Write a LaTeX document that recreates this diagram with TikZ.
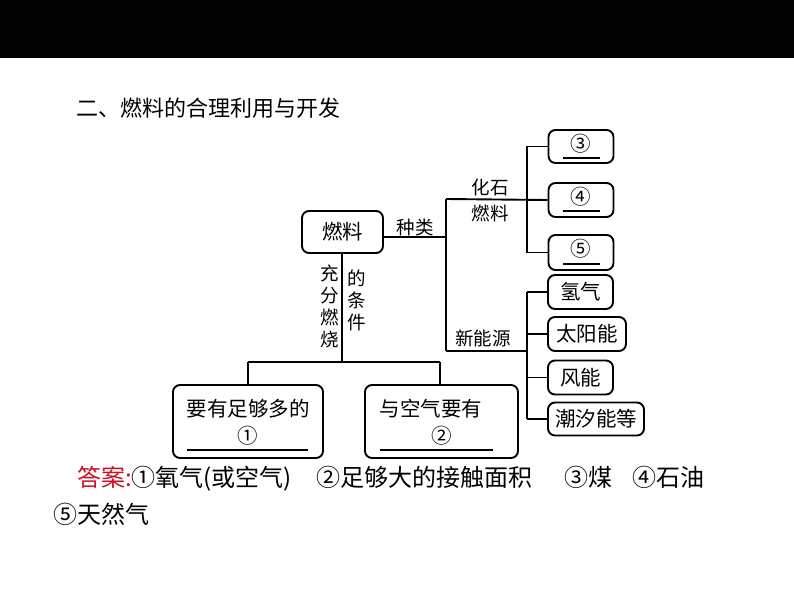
\documentclass[tikz,border=0pt]{standalone}
\usepackage{fontspec}
\setmainfont{Noto Sans CJK SC}
\definecolor{ansred}{RGB}{204,18,32}
\begin{document}
\begin{tikzpicture}[x=1bp,y=-1bp,
  box/.style={draw,line width=1.9bp,rounded corners=7bp,inner sep=0pt,align=center},
  conn/.style={line width=1.9bp},
  lbl/.style={inner sep=0pt,font=\fontsize{18.5bp}{20bp}\selectfont},
  bt/.style={font=\fontsize{20.5bp}{22bp}\selectfont},
  uline/.style={line width=1.6bp},
  anst/.style={anchor=west,inner sep=0pt,font=\fontsize{24bp}{26bp}\selectfont}]
\useasboundingbox (0,0) rectangle (794,596);
\fill[black] (0,0) rectangle (794,58);
\node[anchor=west,inner sep=0pt,font=\fontsize{22bp}{24bp}\selectfont] (title) at (76,108) {二、燃料的合理利用与开发};
% main box
\node[box,bt,minimum width=81bp,minimum height=42bp] (fuel) at (342.5,232) {燃料};
% fossil
\node[box,bt,minimum width=65bp,minimum height=33bp] (c3) at (581,146.5) {};
\node[box,bt,minimum width=65bp,minimum height=34bp] (c4) at (581,200) {};
\node[box,bt,minimum width=65bp,minimum height=35bp] (c5) at (581,252.5) {};
\node[bt,inner sep=0pt] (t3) at (581,144) {③};
\node[bt,inner sep=0pt] (t4) at (581,197) {④};
\node[bt,inner sep=0pt] (t5) at (581,249) {⑤};
\draw[uline] (563,158) -- (600,158);
\draw[uline] (563,211) -- (600,211);
\draw[uline] (563,264) -- (600,264);
% new energy
\node[box,bt,minimum width=65bp,minimum height=34bp] (h2) at (580.5,292) {氢气};
\node[box,bt,minimum width=78bp,minimum height=34bp] (solar) at (587,334) {太阳能};
\node[box,bt,minimum width=65bp,minimum height=34bp] (wind) at (580.5,377.5) {风能};
\node[box,bt,minimum width=96bp,minimum height=33bp] (tide) at (596,419) {潮汐能等};
% bottom boxes
\node[box,minimum width=150bp,minimum height=73bp] (b1) at (248,421.5) {};
\node[box,minimum width=153bp,minimum height=73bp] (b2) at (441.5,421.5) {};
\node[bt,inner sep=0pt] (b1t) at (248,409) {要有足够多的};
\node[bt,inner sep=0pt] (b1n) at (248,436) {①};
\node[bt,inner sep=0pt] (b2t) at (431,409) {与空气要有};
\node[bt,inner sep=0pt] (b2n) at (441.5,436) {②};
\draw[uline] (187,450) -- (308,450);
\draw[uline] (380,450) -- (493,450);
% junctions
\coordinate (j1) at (446,237);
\coordinate (jf) at (446,199);
\coordinate (jn) at (446,351);
\coordinate (kf) at (527,199);
\coordinate (kn) at (527,351);
\coordinate (d1) at (342,362);
\coordinate (dl) at (248,362);
\coordinate (dr) at (440,362);
% connectors
\draw[conn] (fuel.east |- j1) -- (j1);
\draw[conn] (jf) -- (jn);
\draw[conn] (jf) -- (c4.west);
\draw[conn] (kf |- c3.west) -- (kf |- c5.west);
\draw[conn] (kf |- c3.west) -- (c3.west);
\draw[conn] (kf |- c5.west) -- (c5.west);
\draw[conn] (jn) -- (kn);
\draw[conn] (kn |- h2.west) -- (kn |- tide.west);
\draw[conn] (kn |- h2.west) -- (h2.west);
\draw[conn] (kn |- solar.west) -- (solar.west);
\draw[conn] (kn |- wind.west) -- (wind.west);
\draw[conn] (kn |- tide.west) -- (tide.west);
\draw[conn] (fuel.south -| d1) -- (d1);
\draw[conn] (dl) -- (dr);
\draw[conn] (dl) -- (b1.north -| dl);
\draw[conn] (dr) -- (b2.north -| dr);
% labels
\node[lbl] (kind) at (415,227) {种类};
\node[lbl] (fossil1) at (490,187) {化石};
\node[lbl] (fossil2) at (490,213) {燃料};
\node[lbl] (newe) at (483,338) {新能源};
\node[lbl,align=center,font=\fontsize{18.5bp}{22bp}\selectfont] (cond1) at (330,306) {充\\分\\燃\\烧};
\node[lbl,align=center,font=\fontsize{18.5bp}{22bp}\selectfont] (cond2) at (357,300) {的\\条\\件};
% answers
\node[anst] (ans1) at (77,479)
  {\textcolor{ansred}{答案:}①氧气(或空气)\hspace{24bp}②足够大的接触面积\hspace{32bp}③煤\hspace{20bp}④石油};
\node[anst] (ans2) at (53,514) {⑤天然气};
\end{tikzpicture}
\end{document}
